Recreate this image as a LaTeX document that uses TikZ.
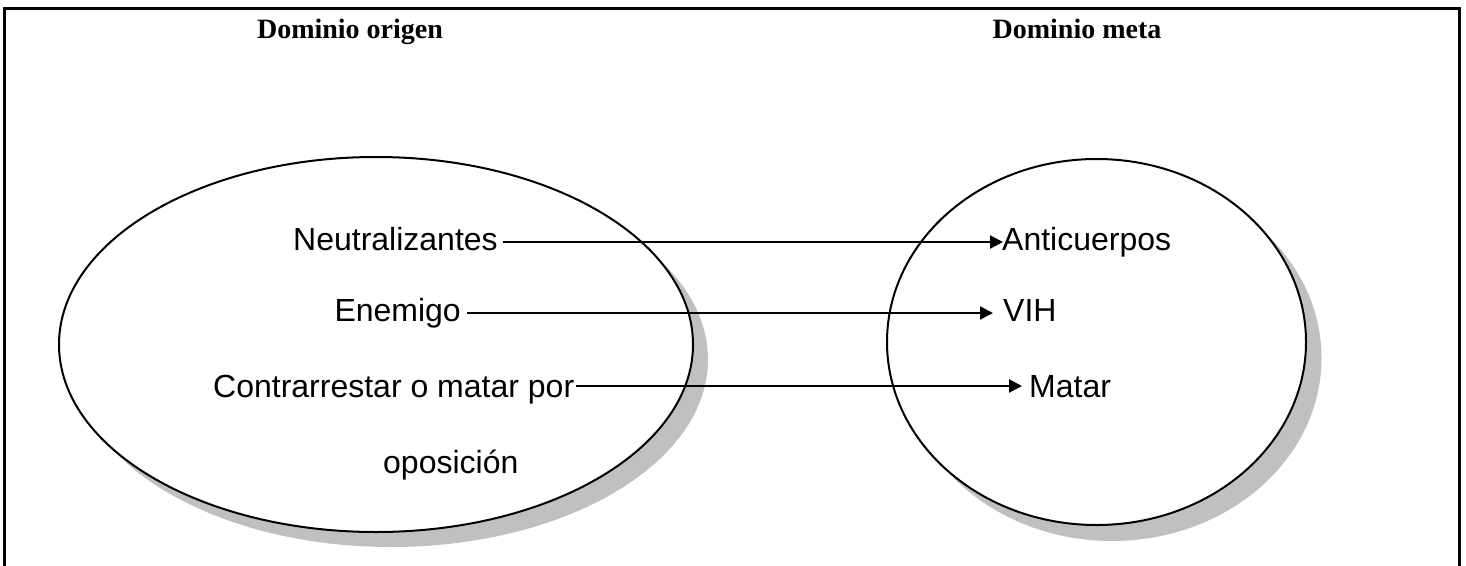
\documentclass[tikz,border=0pt]{standalone}
\usepackage{fontspec}
\setmainfont{Liberation Serif}
\newfontfamily\arialfont{Liberation Sans}
\usetikzlibrary{arrows.meta}
\definecolor{shadowgray}{HTML}{C0C0C0}
\begin{document}
\begin{tikzpicture}[x=1pt,y=-1pt,
  lbl/.style={font=\arialfont\fontsize{32}{38}\selectfont, inner sep=0pt, text height=23pt, text depth=7pt},
  ttl/.style={font=\bfseries\fontsize{28}{34}\selectfont, inner sep=0pt, anchor=base},
  dom/.style={draw=black, line width=2pt, fill=white},
  shd/.style={fill=shadowgray, draw=none},
  arr/.style={line width=2.2pt, -{Triangle[length=13pt,width=13pt]}},
  frame/.style={line width=3pt}
]
\useasboundingbox (0,0) rectangle (1466,565);
% frame
\draw[frame] (4.5,566) -- (4.5,8) -- (1459,8) -- (1459,566);
% titles
\node[ttl] (t1) at (350,38) {Dominio origen};
\node[ttl] (t2) at (1077,38) {Dominio meta};
% shadows
\fill[shd] (391,359.5) ellipse [x radius=317, y radius=187.5];
\fill[shd] (1112,358) ellipse [x radius=209.5, y radius=183];
% domains
\draw[dom] (376,344.5) ellipse [x radius=317, y radius=187.5];
\draw[dom] (1096.5,342) ellipse [x radius=209.5, y radius=183];
% left labels
\node[lbl, anchor=west] (n1) at (293,242) {Neutralizantes};
\node[lbl, anchor=east] (n2) at (461,313) {Enemigo};
\node[lbl, anchor=west] (n3) at (213,389) {Contrarrestar o matar por};
\node[lbl, anchor=west] (n4) at (383,465) {oposición};
% right labels
\node[lbl, anchor=west] (m1) at (1002,242) {Anticuerpos};
\node[lbl, anchor=west] (m2) at (1003,313) {VIH};
\node[lbl, anchor=west] (m3) at (1029,389) {Matar};
% arrows
\draw[arr] ([xshift=5pt]n1.east) -- ([xshift=1pt]m1.west);
\draw[arr] ([xshift=6pt]n2.east) -- ([xshift=-10pt]m2.west);
\draw[arr] ([xshift=2pt,yshift=3pt]n3.east) -- ([xshift=-7pt,yshift=3pt]m3.west);
\end{tikzpicture}
\end{document}
